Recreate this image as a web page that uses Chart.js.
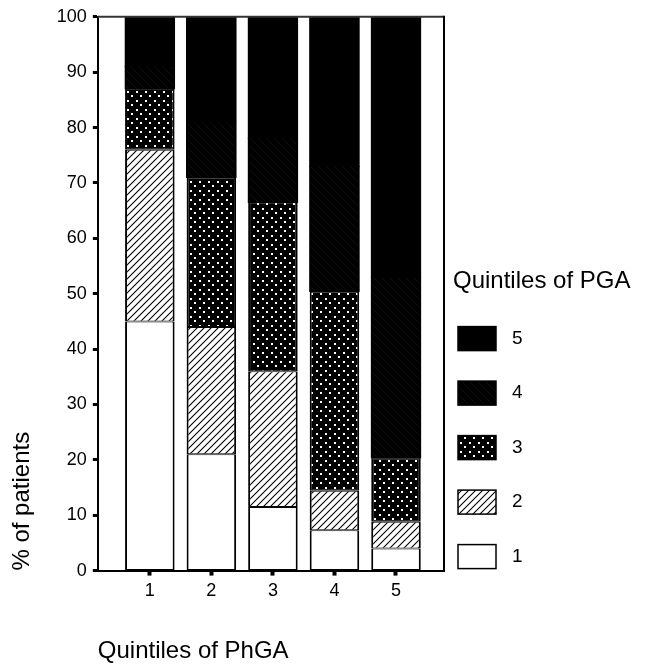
<!DOCTYPE html>
<html>
<head>
<meta charset="utf-8">
<script src="https://cdn.jsdelivr.net/npm/chart.js@4"></script>
<style>
  html, body { margin: 0; padding: 0; background: #fff; }
  #wrap { width: 646px; height: 666px; position: relative; }
</style>
</head>
<body>
<div id="wrap"><canvas id="c"></canvas></div>
<script>
// ---- data ----
const categories = [1, 2, 3, 4, 5];
const seriesLabels = ['1', '2', '3', '4', '5'];
const pga1 = [45, 21, 11.5, 7.3, 4];
const pga2 = [31, 23, 24.5, 7.1, 4.8];
const pga3 = [11, 27, 30.5, 36, 11.5];
const pga4 = [4, 10, 11.5, 22.6, 32.7];
const pga5 = [9, 19, 22, 27, 47];
const yTickValues = [0, 10, 20, 30, 40, 50, 60, 70, 80, 90, 100];
const xTitle = 'Quintiles of PhGA';
const yTitle = '% of patients';
const legendTitle = 'Quintiles of PGA';

// ---- patterns ----
function makePattern(w, h, draw) {
  const c = document.createElement('canvas');
  c.width = w; c.height = h;
  const g = c.getContext('2d');
  draw(g, w, h);
  return g.createPattern(c, 'repeat');
}
const fillWhite = '#ffffff';
const fillHatch = makePattern(7, 7, (g, w, h) => {
  g.fillStyle = '#fff'; g.fillRect(0, 0, w, h);
  g.strokeStyle = '#000'; g.lineWidth = 1.1;
  g.beginPath();
  g.moveTo(-1, h + 1); g.lineTo(w + 1, -1);
  g.moveTo(-1, 1); g.lineTo(1, -1);
  g.moveTo(w - 1, h + 1); g.lineTo(w + 1, h - 1);
  g.stroke();
});
const fillDots = makePattern(9, 9, (g, w, h) => {
  g.fillStyle = '#000'; g.fillRect(0, 0, w, h);
  g.fillStyle = '#fff';
  g.fillRect(1, 1, 2, 2);
  g.fillRect(5, 5, 2, 2);
});
const fillFaint = makePattern(8, 8, (g, w, h) => {
  g.fillStyle = '#000'; g.fillRect(0, 0, w, h);
  g.strokeStyle = '#161616'; g.lineWidth = 0.7;
  g.beginPath();
  g.moveTo(-1, -1); g.lineTo(w + 1, h + 1);
  g.stroke();
});
const fillBlack = '#000000';
const fills = [fillWhite, fillHatch, fillDots, fillFaint, fillBlack];
const inflates = [0, 0, 0, 0.6, 0.6];
const seriesValues = [pga1, pga2, pga3, pga4, pga5];

const FONT = '"Liberation Sans", Arial, Helvetica, sans-serif';
Chart.defaults.font.family = FONT;
Chart.defaults.color = '#000';

// ---- plugins ----
const framePlugin = {
  id: 'frame',
  afterDraw(chart) {
    const { ctx, chartArea: a } = chart;
    ctx.save();
    ctx.lineWidth = 2;
    ctx.strokeStyle = '#333';
    ctx.beginPath();
    ctx.moveTo(a.left, a.top); ctx.lineTo(a.right, a.top);
    ctx.stroke();
    ctx.strokeStyle = '#000';
    ctx.beginPath();
    ctx.moveTo(a.right, a.top - 1); ctx.lineTo(a.right, a.bottom);
    ctx.stroke();
    ctx.restore();
  }
};

const legendPlugin = {
  id: 'pgaLegend',
  afterDraw(chart) {
    const { ctx, chartArea: a } = chart;
    const x0 = a.right + 9;
    const rowGap = 54.5;
    const bottomRow = a.bottom - 14;
    const n = chart.data.datasets.length;
    ctx.save();
    ctx.textBaseline = 'middle';
    ctx.textAlign = 'left';
    ctx.fillStyle = '#000';
    ctx.font = '24px ' + FONT;
    ctx.fillText(legendTitle, x0, bottomRow - (n - 1) * rowGap - 57);
    chart.data.datasets.forEach((ds, i) => {
      const y = bottomRow - i * rowGap;
      ctx.fillStyle = ds.backgroundColor;
      ctx.fillRect(x0 + 5, y - 12, 38, 24);
      ctx.lineWidth = 1.5;
      ctx.strokeStyle = '#000';
      ctx.strokeRect(x0 + 5, y - 12, 38, 24);
      ctx.fillStyle = '#000';
      ctx.font = '19px ' + FONT;
      ctx.fillText(ds.label, x0 + 59, y);
    });
    ctx.restore();
  }
};

// ---- chart ----
const datasets = seriesLabels.map((lab, s) => ({
  label: lab,
  data: categories.map((c, i) => ({ x: c, y: seriesValues[s][i] })),
  backgroundColor: fills[s],
  borderColor: '#000',
  borderWidth: { top: 1, bottom: 1, left: 2, right: 2 },
  borderSkipped: false,
  inflateAmount: inflates[s],
  barPercentage: 1,
  categoryPercentage: 0.805
}));

new Chart(document.getElementById('c'), {
  type: 'bar',
  data: { datasets },
  options: {
    responsive: true,
    maintainAspectRatio: false,
    animation: false,
    layout: { padding: { top: 13, right: 202, bottom: 0, left: 0 } },
    plugins: { legend: { display: false }, tooltip: { enabled: false } },
    scales: {
      x: {
        type: 'linear',
        stacked: true,
        min: 0.155,
        max: 5.78,
        offset: false,
        z: 1,
        afterBuildTicks: (axis) => { axis.ticks = categories.map(v => ({ value: v })); },
        grid: { display: true, drawOnChartArea: false, drawTicks: true, tickLength: 5, tickWidth: 4, color: '#000', offset: false },
        border: { display: true, color: '#000', width: 2 },
        ticks: { font: { size: 18 }, padding: 5, color: '#000', maxRotation: 0, autoSkip: false },
        title: { display: true, text: xTitle, align: 'start', color: '#000', font: { size: 24 }, padding: { top: 30, bottom: 0 } }
      },
      y: {
        stacked: true,
        min: 0,
        max: 100,
        z: 1,
        afterBuildTicks: (axis) => { axis.ticks = yTickValues.map(v => ({ value: v })); },
        grid: { display: true, drawOnChartArea: false, drawTicks: true, tickLength: 5, tickWidth: 3, color: '#000' },
        border: { display: true, color: '#000', width: 2 },
        ticks: { font: { size: 18 }, padding: 6, color: '#000' },
        title: { display: true, text: yTitle, align: 'start', color: '#000', font: { size: 24 }, padding: { top: 8, bottom: 14 } }
      }
    }
  },
  plugins: [framePlugin, legendPlugin]
});
</script>
</body>
</html>
